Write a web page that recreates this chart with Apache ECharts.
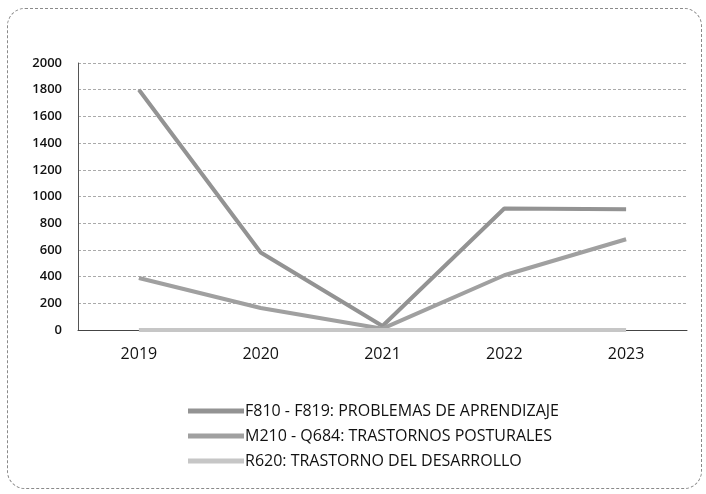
<!DOCTYPE html>
<html>
<head>
<meta charset="utf-8">
<script src="https://cdn.jsdelivr.net/npm/echarts@6/dist/echarts.min.js"></script>
<style>
  html, body { margin: 0; padding: 0; background: #fff; }
  #frame {
    position: absolute; left: 7px; top: 8px; width: 695px; height: 481px;
    border: 1px dashed #8a8a8a; border-radius: 18px; box-sizing: border-box;
  }
  #chart { position: absolute; left: 0; top: 0; width: 706px; height: 494px; }
</style>
</head>
<body>
<div id="frame"></div>
<div id="chart"></div>
<script>
// datos
let years = ["2019", "2020", "2021", "2022", "2023"];
let aprendizaje = [1800, 580, 30, 910, 905];
let posturales = [390, 165, 10, 410, 680];
let desarrollo = [0, 0, 0, 0, 0];
let yTicks = [0, 200, 400, 600, 800, 1000, 1200, 1400, 1600, 1800, 2000];

let names = [
  "F810 - F819: PROBLEMAS DE APRENDIZAJE",
  "M210 - Q684: TRASTORNOS POSTURALES",
  "R620: TRASTORNO DEL DESARROLLO"
];

let myChart = echarts.init(document.getElementById("chart"));

function serie(name, data, color) {
  return {
    name: name,
    type: "line",
    data: data,
    symbol: "none",
    lineStyle: { color: color, width: 4 },
    itemStyle: { color: color }
  };
}

let option = {
  animation: false,
  textStyle: { fontFamily: "Open Sans, Liberation Sans, sans-serif" },
  grid: { left: 78, right: 19, top: 63, bottom: 164 },
  legend: {
    orient: "vertical",
    left: 183,
    top: 398,
    itemWidth: 56,
    itemHeight: 5,
    itemGap: 9,
    icon: "rect",
    textStyle: { color: "#111", fontSize: 16, padding: [0, 0, 0, -4] },
    data: names
  },
  xAxis: {
    type: "category",
    data: years,
    boundaryGap: true,
    axisLine: { lineStyle: { color: "#444", width: 1 } },
    axisTick: { show: false },
    axisLabel: { color: "#111", fontSize: 16, margin: 16 }
  },
  yAxis: {
    type: "value",
    min: yTicks[0],
    max: yTicks[yTicks.length - 1],
    interval: 200,
    axisLine: { show: true, lineStyle: { color: "#555", width: 1 } },
    axisTick: { show: false },
    axisLabel: {
      color: "#111", fontSize: 13, fontWeight: 600, margin: 16,
      formatter: function (v) { return String(v); }
    },
    splitLine: { lineStyle: { color: "#aaa", type: [3, 2], width: 1 } }
  },
  series: [
    serie(names[0], aprendizaje, "#939393"),
    serie(names[1], posturales, "#a0a0a0"),
    serie(names[2], desarrollo, "#c6c6c6")
  ]
};

myChart.setOption(option);
</script>
</body>
</html>
